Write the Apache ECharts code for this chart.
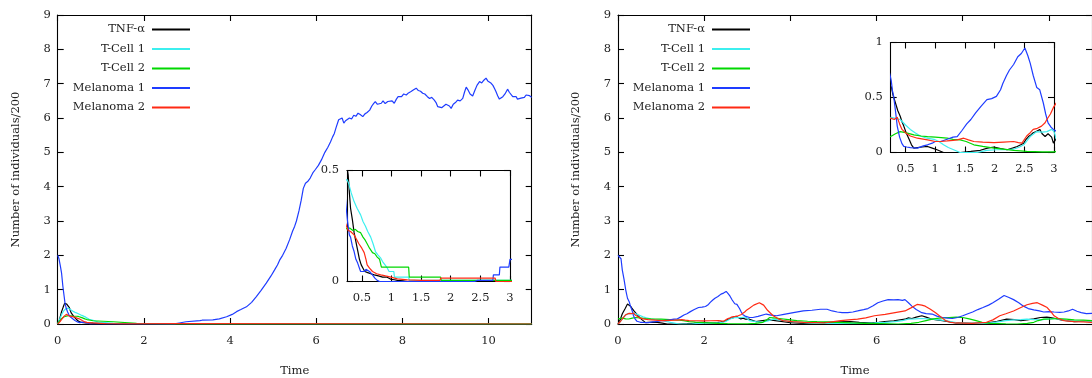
<!DOCTYPE html>
<html><head><meta charset="utf-8">
<script src="https://cdn.jsdelivr.net/npm/echarts@6/dist/echarts.min.js"></script>
<style>html,body{margin:0;padding:0;background:#fff}#c{width:1092px;height:378px}</style>
</head><body><div id="c"></div>
<script>
// ---------- data ----------
const seriesNames = ['TNF-\u03b1', 'T-Cell 1', 'T-Cell 2', 'Melanoma 1', 'Melanoma 2'];
const mainXTicks = [0, 2, 4, 6, 8, 10];
const mainYTicks = [0, 1, 2, 3, 4, 5, 6, 7, 8, 9];
const insetXTicks = [0.5, 1, 1.5, 2, 2.5, 3];
const leftInsetYTicks = [0, 0.5];
const rightInsetYTicks = [0, 0.5, 1];

// Left panel
const leftTNF = [[0,0],[0.04,0.12],[0.09,0.36],[0.13,0.5],[0.16,0.6],[0.18,0.62],[0.21,0.58],[0.24,0.53],[0.27,0.48],[0.29,0.4],[0.31,0.33],[0.34,0.28],[0.37,0.22],[0.4,0.18],[0.43,0.14],[0.46,0.1],[0.49,0.075],[0.52,0.06],[0.55,0.045],[0.6,0.04],[0.65,0.035],[0.71,0.03],[0.78,0.025],[0.85,0.02],[0.92,0.02],[0.99,0.01],[1.05,0.008],[1.1,0.005],[1.2,0.003],[1.27,0],[11,0]];
const leftT1 = [[0,0],[0.05,0.15],[0.1,0.3],[0.15,0.4],[0.2,0.45],[0.25,0.46],[0.28,0.44],[0.32,0.4],[0.37,0.36],[0.42,0.33],[0.48,0.3],[0.52,0.27],[0.56,0.25],[0.6,0.225],[0.65,0.2],[0.69,0.17],[0.73,0.135],[0.77,0.12],[0.82,0.105],[0.85,0.09],[0.88,0.083],[0.92,0.065],[0.96,0.045],[1.04,0.045],[1.05,0.02],[1.29,0.02],[1.3,0.005],[2.75,0.005],[2.76,0],[11,0]];
const leftT2 = [[0,0.02],[0.05,0.1],[0.1,0.17],[0.15,0.21],[0.2,0.23],[0.25,0.24],[0.3,0.24],[0.35,0.23],[0.39,0.235],[0.43,0.225],[0.48,0.22],[0.52,0.2],[0.56,0.185],[0.59,0.17],[0.63,0.15],[0.68,0.13],[0.72,0.125],[0.76,0.11],[0.8,0.1],[0.82,0.095],[0.83,0.065],[1.29,0.065],[1.3,0.02],[1.83,0.02],[1.84,0.005],[2.55,0.005],[2.56,0],[11,0]];
const leftM1 = [[0,2.0],[0.03,1.9],[0.06,1.7],[0.09,1.48],[0.12,1.1],[0.15,0.8],[0.17,0.6],[0.2,0.45],[0.23,0.35],[0.26,0.27],[0.29,0.21],[0.31,0.2],[0.34,0.16],[0.37,0.135],[0.4,0.1],[0.43,0.083],[0.46,0.06],[0.48,0.045],[0.51,0.04],[0.54,0.045],[0.57,0.055],[0.59,0.06],[0.63,0.045],[0.68,0.03],[0.72,0.015],[0.76,0.005],[0.8,0],[2.4,0],[2.45,0.005],[2.71,0.005],[2.72,0.03],[2.82,0.03],[2.83,0.065],[2.98,0.065],[3.0,0.1],[3.3,0.1],[3.35,0.11],[3.6,0.12],[3.75,0.15],[3.92,0.21],[4.05,0.28],[4.15,0.36],[4.25,0.42],[4.38,0.5],[4.5,0.63],[4.61,0.8],[4.72,0.98],[4.84,1.19],[4.95,1.4],[5.03,1.57],[5.1,1.72],[5.15,1.86],[5.22,2.0],[5.3,2.2],[5.38,2.45],[5.45,2.7],[5.5,2.85],[5.54,3.0],[5.6,3.3],[5.65,3.6],[5.7,3.95],[5.75,4.1],[5.8,4.15],[5.86,4.25],[5.92,4.4],[5.98,4.5],[6.05,4.62],[6.12,4.78],[6.2,5.0],[6.27,5.15],[6.33,5.3],[6.38,5.45],[6.42,5.55],[6.46,5.72],[6.49,5.7],[6.52,5.95],[6.56,5.9],[6.6,6.0],[6.64,5.85],[6.68,5.92],[6.72,5.88],[6.77,6.0],[6.82,5.97],[6.87,6.08],[6.92,6.05],[6.97,6.14],[7.02,6.1],[7.08,6.04],[7.13,6.12],[7.18,6.16],[7.24,6.23],[7.29,6.35],[7.33,6.42],[7.37,6.48],[7.42,6.4],[7.46,6.45],[7.51,6.43],[7.55,6.5],[7.6,6.42],[7.66,6.48],[7.7,6.45],[7.76,6.5],[7.81,6.43],[7.86,6.55],[7.9,6.62],[7.93,6.67],[7.98,6.62],[8.03,6.7],[8.09,6.67],[8.14,6.73],[8.2,6.77],[8.26,6.82],[8.32,6.87],[8.37,6.8],[8.42,6.78],[8.47,6.72],[8.52,6.7],[8.58,6.62],[8.63,6.57],[8.68,6.6],[8.74,6.52],[8.78,6.45],[8.82,6.33],[8.86,6.38],[8.91,6.3],[8.96,6.35],[9.01,6.4],[9.05,6.43],[9.09,6.35],[9.13,6.28],[9.18,6.4],[9.23,6.45],[9.28,6.52],[9.34,6.5],[9.4,6.57],[9.44,6.75],[9.48,6.9],[9.52,6.82],[9.57,6.7],[9.63,6.64],[9.68,6.8],[9.73,6.95],[9.79,7.06],[9.84,7.02],[9.89,7.1],[9.94,7.16],[9.98,7.08],[10.02,7.1],[10.06,7.01],[10.1,6.95],[10.14,6.85],[10.17,6.77],[10.21,6.65],[10.25,6.55],[10.29,6.6],[10.33,6.62],[10.38,6.7],[10.44,6.84],[10.48,6.75],[10.52,6.7],[10.56,6.62],[10.6,6.58],[10.64,6.62],[10.67,6.55],[10.71,6.6],[10.75,6.58],[10.79,6.62],[10.83,6.6],[10.87,6.67],[10.91,6.62],[10.95,6.65],[11,6.6]];
const leftM2 = [[0,0],[0.05,0.06],[0.1,0.15],[0.15,0.23],[0.2,0.28],[0.24,0.25],[0.27,0.23],[0.31,0.225],[0.37,0.21],[0.41,0.19],[0.45,0.17],[0.5,0.15],[0.54,0.13],[0.57,0.1],[0.59,0.075],[0.63,0.06],[0.68,0.045],[0.75,0.035],[0.82,0.03],[0.9,0.025],[0.99,0.02],[1.1,0.012],[1.27,0.007],[1.5,0.005],[1.82,0.005],[1.83,0.015],[2.75,0.015],[2.76,0],[11,0]];

// Right panel
const rightTNF = [[0,0],[0.05,0.12],[0.1,0.3],[0.17,0.46],[0.22,0.58],[0.26,0.6],[0.29,0.52],[0.33,0.45],[0.37,0.38],[0.41,0.33],[0.44,0.28],[0.47,0.24],[0.51,0.18],[0.56,0.12],[0.6,0.07],[0.64,0.04],[0.7,0.045],[0.78,0.05],[0.87,0.055],[0.95,0.04],[1.03,0.025],[1.14,0],[1.42,0],[1.6,0.01],[1.76,0.02],[1.88,0.04],[1.99,0.05],[2.1,0.035],[2.21,0.025],[2.3,0.04],[2.38,0.055],[2.44,0.07],[2.49,0.085],[2.53,0.12],[2.57,0.145],[2.61,0.16],[2.65,0.18],[2.7,0.19],[2.76,0.21],[2.8,0.17],[2.85,0.145],[2.9,0.17],[2.93,0.18],[2.96,0.14],[2.99,0.085],[3.05,0.14],[3.2,0.07],[3.35,0.1],[3.52,0.12],[3.65,0.1],[3.83,0.07],[4.0,0.04],[4.3,0.02],[4.6,0.03],[4.93,0.05],[5.15,0.06],[5.4,0.07],[5.6,0.05],[5.88,0.03],[6.05,0.05],[6.19,0.07],[6.4,0.09],[6.55,0.12],[6.66,0.14],[6.74,0.18],[6.82,0.16],[6.92,0.2],[7.05,0.24],[7.15,0.2],[7.29,0.14],[7.4,0.12],[7.53,0.1],[7.7,0.06],[7.84,0.03],[8.2,0.02],[8.55,0.03],[8.8,0.08],[9.02,0.14],[9.2,0.13],[9.35,0.1],[9.49,0.12],[9.65,0.15],[9.8,0.19],[9.95,0.2],[10.04,0.19],[10.15,0.16],[10.28,0.12],[10.45,0.09],[10.59,0.07],[10.8,0.08],[11,0.07]];
const rightT1 = [[0,0],[0.05,0.06],[0.1,0.15],[0.16,0.24],[0.22,0.3],[0.26,0.32],[0.33,0.31],[0.41,0.3],[0.5,0.25],[0.58,0.21],[0.66,0.18],[0.75,0.15],[0.86,0.13],[0.98,0.12],[1.06,0.1],[1.14,0.07],[1.22,0.045],[1.31,0.025],[1.42,0],[1.7,0],[1.87,0.02],[2.03,0.025],[2.2,0.025],[2.32,0.03],[2.42,0.05],[2.49,0.07],[2.55,0.11],[2.6,0.145],[2.66,0.17],[2.71,0.19],[2.8,0.185],[2.88,0.19],[2.96,0.21],[3.0,0.19],[3.05,0.1],[3.2,0.07],[3.36,0.05],[3.5,0.1],[3.6,0.14],[3.68,0.13],[3.85,0.1],[4.0,0.07],[4.3,0.04],[4.62,0.02],[5.0,0.02],[5.33,0.02],[5.7,0.02],[5.95,0.03],[6.2,0.05],[6.43,0.07],[6.6,0.1],[6.74,0.14],[6.9,0.15],[7.05,0.16],[7.18,0.15],[7.29,0.14],[7.45,0.12],[7.6,0.1],[7.75,0.06],[7.92,0.03],[8.2,0.02],[8.55,0.02],[8.7,0.04],[8.86,0.07],[9.0,0.1],[9.18,0.12],[9.35,0.13],[9.49,0.14],[9.65,0.13],[9.8,0.12],[9.95,0.14],[10.12,0.16],[10.3,0.13],[10.43,0.1],[10.7,0.08],[11,0.07]];
const rightT2 = [[0,0.15],[0.05,0.16],[0.1,0.17],[0.18,0.15],[0.25,0.145],[0.33,0.17],[0.41,0.19],[0.5,0.18],[0.64,0.16],[0.76,0.15],[0.87,0.145],[1.0,0.14],[1.2,0.13],[1.3,0.12],[1.42,0.115],[1.52,0.1],[1.65,0.07],[1.8,0.055],[1.99,0.04],[2.15,0.03],[2.32,0.02],[2.54,0.01],[2.8,0.005],[3.0,0.005],[3.2,0.02],[3.36,0.05],[3.45,0.12],[3.52,0.19],[3.6,0.18],[3.75,0.16],[3.95,0.13],[4.15,0.1],[4.4,0.08],[4.62,0.07],[4.85,0.06],[5.09,0.05],[5.4,0.03],[5.72,0.02],[6.1,0.01],[6.5,0],[6.8,0.02],[6.98,0.05],[7.15,0.1],[7.29,0.14],[7.45,0.17],[7.68,0.19],[7.85,0.2],[8.0,0.19],[8.15,0.15],[8.31,0.1],[8.45,0.05],[8.63,0.02],[9.0,0.005],[9.26,0],[9.5,0.02],[9.65,0.05],[9.75,0.1],[9.88,0.14],[10.05,0.15],[10.2,0.16],[10.4,0.14],[10.59,0.12],[10.8,0.11],[11,0.1]];
const rightM1 = [[0,2.0],[0.04,2.0],[0.07,1.9],[0.1,1.57],[0.14,1.3],[0.18,0.99],[0.22,0.75],[0.26,0.65],[0.28,0.56],[0.3,0.51],[0.33,0.38],[0.36,0.24],[0.4,0.14],[0.44,0.08],[0.47,0.055],[0.52,0.05],[0.58,0.045],[0.7,0.04],[0.8,0.06],[0.87,0.07],[0.95,0.085],[1.0,0.1],[1.09,0.1],[1.2,0.12],[1.3,0.14],[1.37,0.145],[1.45,0.2],[1.53,0.26],[1.6,0.3],[1.68,0.36],[1.77,0.42],[1.87,0.48],[1.95,0.49],[2.03,0.51],[2.1,0.57],[2.14,0.63],[2.2,0.7],[2.25,0.75],[2.32,0.8],[2.39,0.87],[2.45,0.9],[2.51,0.95],[2.56,0.88],[2.6,0.81],[2.65,0.7],[2.71,0.59],[2.76,0.57],[2.82,0.45],[2.86,0.35],[2.9,0.27],[2.95,0.23],[2.99,0.21],[3.05,0.19],[3.13,0.19],[3.25,0.22],[3.44,0.29],[3.55,0.26],[3.68,0.24],[3.85,0.28],[4.07,0.33],[4.3,0.38],[4.5,0.4],[4.7,0.43],[4.85,0.43],[4.97,0.38],[5.09,0.35],[5.2,0.33],[5.33,0.33],[5.45,0.35],[5.56,0.38],[5.7,0.42],[5.8,0.45],[5.92,0.53],[6.03,0.62],[6.15,0.67],[6.27,0.71],[6.4,0.7],[6.5,0.71],[6.6,0.69],[6.66,0.71],[6.74,0.62],[6.82,0.52],[6.92,0.42],[7.05,0.33],[7.15,0.3],[7.29,0.29],[7.4,0.23],[7.53,0.19],[7.65,0.17],[7.76,0.16],[7.88,0.19],[8.0,0.24],[8.12,0.3],[8.23,0.35],[8.35,0.42],[8.47,0.48],[8.6,0.55],[8.7,0.62],[8.83,0.72],[8.96,0.83],[9.06,0.78],[9.18,0.71],[9.3,0.62],[9.41,0.52],[9.52,0.45],[9.65,0.41],[9.78,0.38],[9.88,0.35],[10.0,0.36],[10.12,0.35],[10.25,0.34],[10.35,0.35],[10.45,0.38],[10.55,0.43],[10.65,0.37],[10.75,0.33],[10.87,0.3],[11,0.31]];
const rightM2 = [[0,0],[0.06,0.08],[0.12,0.18],[0.18,0.27],[0.21,0.31],[0.26,0.31],[0.31,0.3],[0.36,0.32],[0.4,0.26],[0.44,0.21],[0.5,0.18],[0.58,0.15],[0.7,0.13],[0.87,0.115],[1.0,0.1],[1.09,0.1],[1.2,0.105],[1.3,0.11],[1.37,0.115],[1.48,0.13],[1.56,0.115],[1.65,0.1],[1.8,0.095],[1.99,0.09],[2.15,0.095],[2.32,0.1],[2.4,0.09],[2.46,0.085],[2.54,0.15],[2.6,0.18],[2.65,0.21],[2.72,0.22],[2.79,0.24],[2.85,0.27],[2.88,0.3],[2.94,0.35],[2.99,0.41],[3.05,0.46],[3.15,0.55],[3.28,0.62],[3.38,0.55],[3.47,0.4],[3.6,0.24],[3.72,0.15],[3.83,0.1],[4.05,0.07],[4.3,0.05],[4.55,0.04],[4.78,0.03],[5.0,0.07],[5.17,0.1],[5.35,0.12],[5.56,0.14],[5.75,0.18],[5.95,0.24],[6.2,0.28],[6.43,0.33],[6.66,0.38],[6.8,0.47],[6.94,0.57],[7.05,0.55],[7.13,0.52],[7.25,0.43],[7.37,0.33],[7.5,0.2],[7.6,0.1],[7.72,0.05],[7.84,0.03],[8.23,0.02],[8.55,0.05],[8.7,0.12],[8.86,0.24],[9.0,0.3],[9.18,0.38],[9.35,0.48],[9.49,0.56],[9.62,0.6],[9.73,0.62],[9.85,0.55],[9.96,0.48],[10.05,0.35],[10.12,0.24],[10.22,0.16],[10.35,0.1],[10.59,0.07],[10.8,0.06],[11,0.05]];

// ---------- styling ----------
const colors = ['#000000', '#3cefef', '#00d800', '#1e3cff', '#ff2a14'];
const FONT = 'DejaVu Serif';
const FS = 11.5;
const TXT = '#222';

const leftData = [leftTNF, leftT1, leftT2, leftM1, leftM2];
const rightData = [rightTNF, rightT1, rightT2, rightM1, rightM2];

const grids = [
  {left: 57.7, top: 15, width: 474, height: 309},
  {left: 347, top: 170.5, width: 163, height: 111},
  {left: 618, top: 15, width: 474, height: 309},
  {left: 890.7, top: 42.5, width: 163.3, height: 110}
].map(g => Object.assign({containLabel: false, outerBoundsMode: 'none'}, g));

const xAxes = [], yAxes = [];
const lineSt = {color: '#000', width: 1.1};
function addAxes(gi, xr, yr, xt, yt, names, xm, ym) {
  const base = {gridIndex: gi, type: 'value', splitLine: {show: false}};
  const xi = xAxes.length, yi = yAxes.length;
  xAxes.push(Object.assign({}, base, {
    min: xr[0], max: xr[1], position: 'bottom',
    axisLine: {show: true, onZero: false, lineStyle: lineSt},
    axisTick: {show: true, inside: true, length: 6, customValues: xt, lineStyle: lineSt},
    axisLabel: {customValues: xt, margin: xm, fontFamily: FONT, fontSize: FS, color: TXT},
    name: names ? 'Time' : '', nameLocation: 'middle', nameGap: 41,
    nameTextStyle: {fontFamily: FONT, fontSize: FS, color: TXT}
  }));
  xAxes.push(Object.assign({}, base, {
    min: xr[0], max: xr[1], position: 'top',
    axisLine: {show: true, onZero: false, lineStyle: lineSt},
    axisTick: {show: true, inside: true, length: 6, customValues: xt, lineStyle: lineSt},
    axisLabel: {show: false, customValues: xt}
  }));
  yAxes.push(Object.assign({}, base, {
    min: yr[0], max: yr[1], position: 'left',
    axisLine: {show: true, onZero: false, lineStyle: lineSt},
    axisTick: {show: true, inside: true, length: 6, customValues: yt, lineStyle: lineSt},
    axisLabel: {customValues: yt, margin: ym, fontFamily: FONT, fontSize: FS, color: TXT},
    name: names ? 'Number of individuals/200' : '', nameLocation: 'middle', nameGap: 36,
    nameTextStyle: {fontFamily: FONT, fontSize: FS, color: TXT}
  }));
  yAxes.push(Object.assign({}, base, {
    min: yr[0], max: yr[1], position: 'right',
    axisLine: {show: true, onZero: false, lineStyle: lineSt},
    axisTick: {show: true, inside: true, length: 6, customValues: yt, lineStyle: lineSt},
    axisLabel: {show: false, customValues: yt}
  }));
  return [xi, yi];
}
const axL = addAxes(0, [0, 11], [0, 9], mainXTicks, mainYTicks, true, 11, 7);
const axLi = addAxes(1, [0.25, 3], [0, 0.5], insetXTicks, leftInsetYTicks, false, 11, 8);
const axR = addAxes(2, [0, 11], [0, 9], mainXTicks, mainYTicks, true, 11, 7);
const axRi = addAxes(3, [0.25, 3], [0, 1], insetXTicks, rightInsetYTicks, false, 11, 8);

const series = [];
function addSeries(ax, dataSet) {
  dataSet.forEach((d, i) => {
    series.push({
      type: 'line', name: seriesNames[i], data: d,
      xAxisIndex: ax[0], yAxisIndex: ax[1],
      showSymbol: false, symbol: 'none', color: colors[i],
      lineStyle: {width: 1.2, color: colors[i]}, clip: true, z: 2 + i * 0.01,
      animation: false
    });
  });
}
addSeries(axL, leftData);
addSeries(axLi, leftData);
addSeries(axR, rightData);
addSeries(axRi, rightData);

const legendRows = [31.5, 51, 70.5, 90, 109.5];
const legends = [];
[902, 342].forEach(r => {
  seriesNames.forEach((n, i) => {
    legends.push({
      data: [n], right: r, top: legendRows[i] - 8, orient: 'horizontal', align: 'right',
      itemWidth: 38, itemHeight: 2, icon: 'rect', padding: 0, itemGap: 0,
      selectedMode: false,
      textStyle: {fontFamily: FONT, fontSize: FS, color: TXT, padding: [0, 2, 0, 0]}
    });
  });
});

const chart = echarts.init(document.getElementById('c'), null, {renderer: 'canvas'});
chart.setOption({
  animation: false,
  backgroundColor: '#fff',
  grid: grids,
  xAxis: xAxes,
  yAxis: yAxes,
  legend: legends,
  series: series
});
</script></body></html>
